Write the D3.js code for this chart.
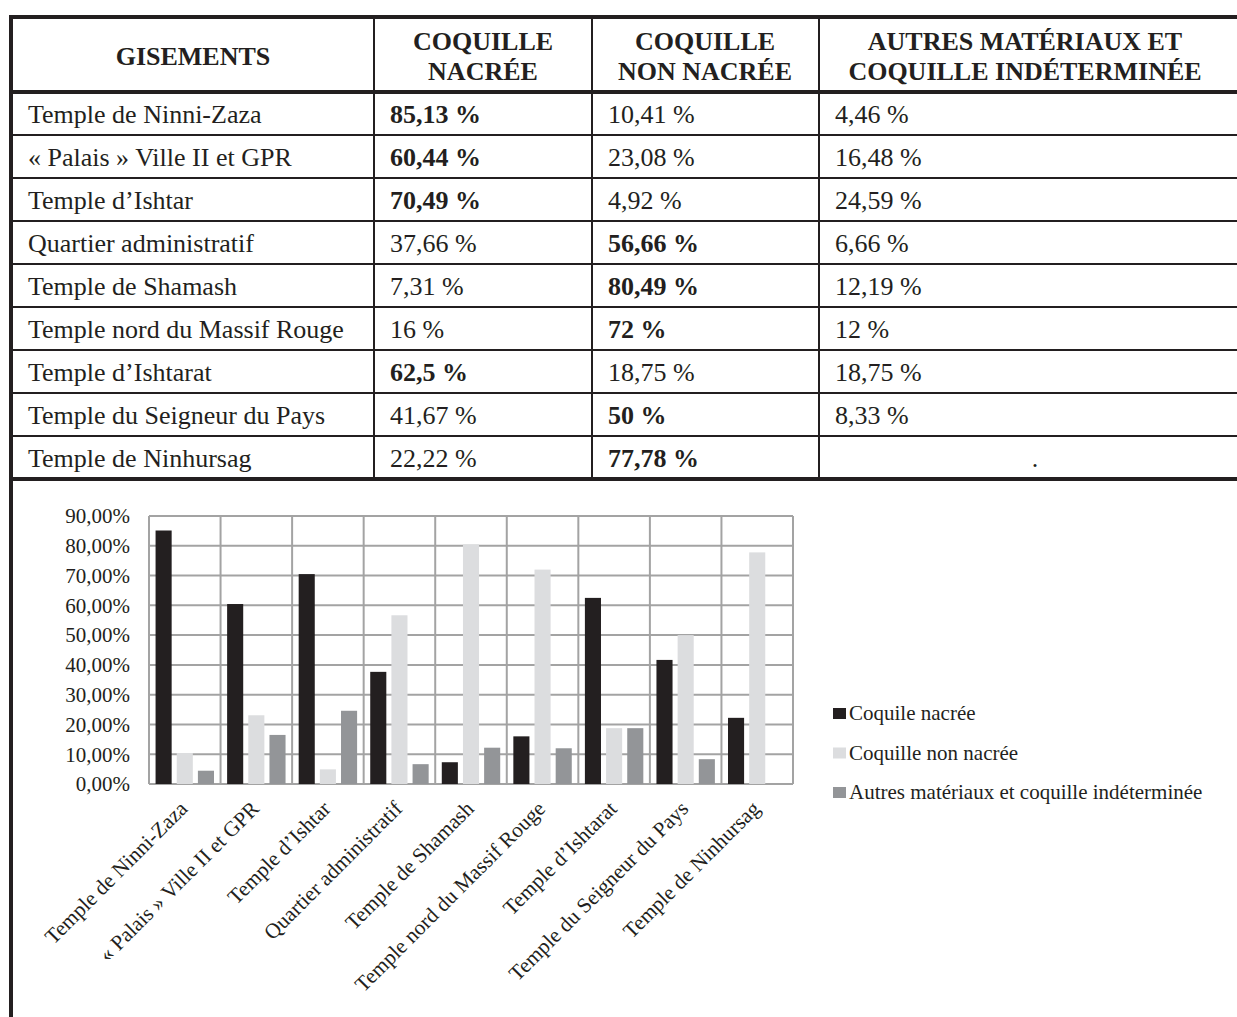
<!DOCTYPE html>
<meta charset="utf-8">
<style>
body { margin: 0; background: #fff; }
svg { display: block; font-family: "Liberation Serif", "Times New Roman", serif; }
</style>
<body>
<script src="https://d3js.org/d3.v7.min.js"></script>
<script>
// gisements + the three shares (%)
var sites = ["Temple de Ninni-Zaza", "« Palais » Ville II et GPR", "Temple d’Ishtar",
  "Quartier administratif", "Temple de Shamash", "Temple nord du Massif Rouge",
  "Temple d’Ishtarat", "Temple du Seigneur du Pays", "Temple de Ninhursag"];
var nacree    = [85.13, 60.44, 70.49, 37.66, 7.31, 16, 62.5, 41.67, 22.22];
var nonNacree = [10.41, 23.08, 4.92, 56.66, 80.49, 72, 18.75, 50, 77.78];
var autres    = [4.46, 16.48, 24.59, 6.66, 12.19, 12, 18.75, 8.33, null];

var headers = [["GISEMENTS"], ["COQUILLE", "NACRÉE"], ["COQUILLE", "NON NACRÉE"],
  ["AUTRES MATÉRIAUX ET", "COQUILLE INDÉTERMINÉE"]];
var seriesNames = ["Coquile nacrée", "Coquille non nacrée", "Autres matériaux et coquille indéterminée"];
var yTicks = [0, 10, 20, 30, 40, 50, 60, 70, 80, 90];

var W = 1237, H = 1017, ink = "#231f20";
var svg = d3.select("body").append("svg").attr("width", W).attr("height", H);
svg.append("rect").attr("width", W).attr("height", H).attr("fill", "#fff");

// ---------- table ----------
var colX = [12, 374, 592, 819, 1240];
var rowY = d3.scaleBand().domain(d3.range(sites.length)).range([92, 479]);

var t = svg.append("g");
// thin grid first
colX.slice(1, 4).forEach(function(x) {
  t.append("line").attr("x1", x).attr("x2", x).attr("y1", 17).attr("y2", 479)
    .attr("stroke", ink).attr("stroke-width", 2);
});
d3.range(1, sites.length).forEach(function(i) {
  t.append("line").attr("x1", 12).attr("x2", W).attr("y1", rowY(i)).attr("y2", rowY(i))
    .attr("stroke", ink).attr("stroke-width", 2);
});
// thick frame
[17, 92, 479].forEach(function(y) {
  t.append("line").attr("x1", 9).attr("x2", W).attr("y1", y).attr("y2", y)
    .attr("stroke", ink).attr("stroke-width", 4);
});
t.append("line").attr("x1", 11).attr("x2", 11).attr("y1", 15).attr("y2", H)
  .attr("stroke", ink).attr("stroke-width", 4);

var hdrCx = [193, 483, 705, 1025];
headers.forEach(function(lines, c) {
  var y0 = lines.length == 1 ? 65 : 50;
  lines.forEach(function(s, k) {
    t.append("text").attr("x", hdrCx[c]).attr("y", y0 + k * 30)
      .attr("text-anchor", "middle").attr("font-weight", "bold")
      .attr("font-size", "26px").attr("fill", ink).text(s);
  });
});

function pct(v) { return String(v).replace(".", ",") + " %"; }

sites.forEach(function(s, i) {
  var y = rowY(i) + rowY.bandwidth() / 2 + 9;
  var vals = [nacree[i], nonNacree[i], autres[i]];
  var mx = d3.max(vals);
  t.append("text").attr("x", 28).attr("y", y).attr("font-size", "26px").attr("fill", ink).text(s);
  vals.forEach(function(v, c) {
    var cell = t.append("text").attr("y", y).attr("font-size", "26px").attr("fill", ink);
    if (v == null) {
      cell.attr("x", 1035).attr("text-anchor", "middle").text(".");
    } else {
      cell.attr("x", colX[c + 1] + 16).text(pct(v))
        .attr("font-weight", v === mx ? "bold" : "normal");
    }
  });
});

// ---------- chart ----------
var x0 = d3.scaleBand().domain(sites).range([149, 793]);
var x1 = d3.scaleBand().domain([0, 1, 2]).range([0, x0.bandwidth()])
  .paddingInner(0.24).paddingOuter(0.31);
var y = d3.scaleLinear().domain([0, 90]).range([784, 516]);
var colors = ["#231f20", "#dcdddf", "#939598"];
var grid = "#a3a3a3";

var ch = svg.append("g");
ch.selectAll(".hg").data(yTicks).enter().append("line")
  .attr("x1", 149).attr("x2", 793)
  .attr("y1", function(d) { return y(d); }).attr("y2", function(d) { return y(d); })
  .attr("stroke", grid).attr("stroke-width", 2);
ch.selectAll(".vg").data(sites.concat([null])).enter().append("line")
  .attr("x1", function(d) { return d ? x0(d) : 793; })
  .attr("x2", function(d) { return d ? x0(d) : 793; })
  .attr("y1", 516).attr("y2", 784)
  .attr("stroke", grid).attr("stroke-width", 2);

var series = [nacree, nonNacree, autres];
series.forEach(function(arr, k) {
  ch.selectAll(".b" + k).data(sites).enter().append("rect")
    .filter(function(d, i) { return arr[i] != null; })
    .attr("x", function(d) { return x0(d) + x1(k); })
    .attr("width", x1.bandwidth())
    .attr("y", function(d) { return y(arr[sites.indexOf(d)]); })
    .attr("height", function(d) { return 784 - y(arr[sites.indexOf(d)]); })
    .attr("fill", colors[k]);
});

var fr = d3.formatLocale({decimal: ",", thousands: " ", grouping: [3], currency: ["", "€"]}).format(".2f");
ch.selectAll(".yl").data(yTicks).enter().append("text")
  .attr("x", 130).attr("y", function(d) { return y(d); }).attr("dy", "0.35em")
  .attr("text-anchor", "end").attr("font-size", "21px").attr("fill", ink)
  .text(function(d) { return fr(d) + "%"; });

ch.selectAll(".xl").data(sites).enter().append("text")
  .attr("transform", function(d) {
    return "translate(" + (x0(d) + x0.bandwidth() / 2 + 4) + ",810) rotate(-45)";
  })
  .attr("text-anchor", "end").attr("font-size", "21.3px").attr("fill", ink)
  .text(function(d) { return d; });

// legend
var lg = ch.selectAll(".lg").data(seriesNames).enter().append("g")
  .attr("transform", function(d, i) { return "translate(833," + (708 + i * 39.5) + ")"; });
lg.append("rect").attr("width", 13).attr("height", 11)
  .attr("fill", function(d, i) { return colors[i]; });
lg.append("text").attr("x", 16).attr("y", 12).attr("font-size", "21px").attr("fill", ink)
  .text(function(d) { return d; });
</script>
</body>
